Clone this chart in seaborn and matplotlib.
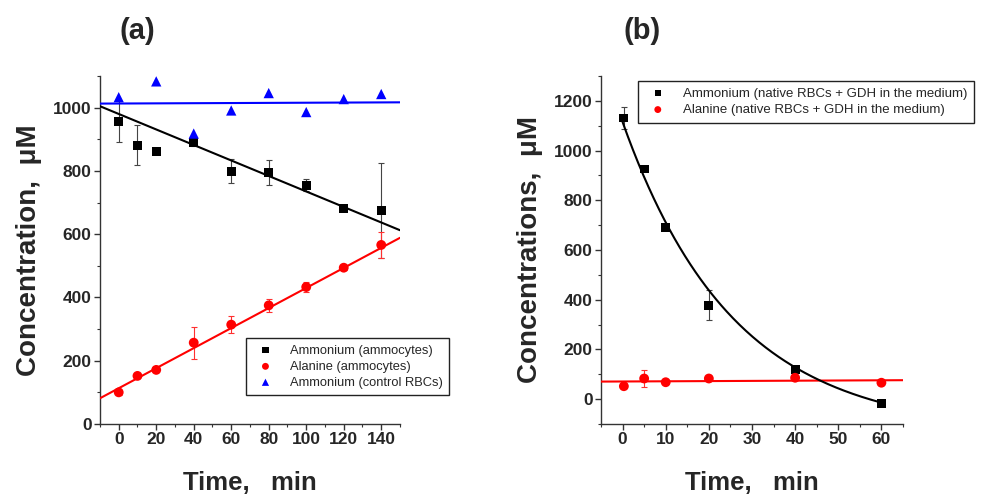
# plot.py - two panel concentration vs time chart

import numpy as np
import pandas as pd
import matplotlib
matplotlib.use('Agg')
import matplotlib.pyplot as plt
from matplotlib.ticker import MultipleLocator
import seaborn as sns

# --- data, panel (a) ---
time_a = [0, 10, 20, 40, 60, 80, 100, 120, 140]
amm_a = [957, 881, 862, 889, 799, 795, 755, 680, 676]
amm_a_err = [65, 63, 10, 10, 38, 40, 20, 8, 150]
ala_a = [100, 152, 171, 257, 314, 375, 433, 494, 566]
ala_a_err = [8, 8, 8, 50, 27, 20, 15, 8, 40]
time_ctrl = [0, 20, 40, 60, 80, 100, 120, 140]
ctrl_a = [1033, 1083, 918, 991, 1046, 986, 1027, 1043]

# fitted lines: intercept, slope
fit_amm_a = [980, -2.45]
fit_ala_a = [113, 3.17]
fit_ctrl_a = [1013, 0.025]

# --- data, panel (b) ---
time_b = [0.3, 5, 10, 20, 40, 60]
amm_b = [1131, 926, 690, 378, 120, -17]
amm_b_err = [45, 10, 10, 60, 10, 5]
ala_b = [52, 83, 68, 83, 86, 66]
ala_b_err = [5, 35, 5, 5, 5, 5]

# exponential decay fit: offset, amplitude, tau
fit_amm_b = [-134, 1249, 25.6]
fit_ala_b = [71, 0.08]

sns.set_style("ticks")
plt.rcParams['font.family'] = ['Liberation Sans', 'DejaVu Sans']
plt.rcParams['font.weight'] = 'bold'

fig = plt.figure(figsize=(9.83, 4.97), dpi=100)
ax1 = fig.add_axes([0.1017, 0.1469, 0.3052, 0.7002])
ax2 = fig.add_axes([0.6114, 0.1469, 0.3072, 0.7002])

err_kw = dict(fmt='none', elinewidth=0.8, capsize=2.5, capthick=0.8, zorder=2)

# --- panel (a) ---
xa = np.array([-10, 150])
ax1.errorbar(time_a, amm_a, yerr=amm_a_err, ecolor='#444444', **err_kw)
ax1.errorbar(time_a, ala_a, yerr=ala_a_err, ecolor='#ff3030', **err_kw)
sns.lineplot(x=xa, y=fit_ctrl_a[0] + fit_ctrl_a[1] * xa, color='#0000ff', lw=1.5, ax=ax1, zorder=3)
sns.lineplot(x=xa, y=fit_amm_a[0] + fit_amm_a[1] * xa, color='black', lw=1.5, ax=ax1, zorder=3)
sns.lineplot(x=xa, y=fit_ala_a[0] + fit_ala_a[1] * xa, color='#ff0000', lw=1.5, ax=ax1, zorder=3)
sns.scatterplot(x=time_a, y=amm_a, marker='s', s=40, color='black', edgecolor='none',
                label='Ammonium (ammocytes)', ax=ax1, zorder=4)
sns.scatterplot(x=time_a, y=ala_a, marker='o', s=50, color='#ff0000', edgecolor='none',
                label='Alanine (ammocytes)', ax=ax1, zorder=4)
sns.scatterplot(x=time_ctrl, y=ctrl_a, marker='^', s=55, color='#0000ff', edgecolor='none',
                label='Ammonium (control RBCs)', ax=ax1, zorder=4)

ax1.set_xlim(-10, 150)
ax1.set_ylim(0, 1100)
ax1.xaxis.set_major_locator(MultipleLocator(20))
ax1.xaxis.set_minor_locator(MultipleLocator(10))
ax1.yaxis.set_major_locator(MultipleLocator(200))
ax1.yaxis.set_minor_locator(MultipleLocator(100))
ax1.set_xlabel('Time,   min', fontsize=18.5, fontweight='bold', labelpad=17)
ax1.set_ylabel('Concentration,  \u03bcM', fontsize=20, fontweight='bold', labelpad=8)
ax1.legend(loc='lower left', bbox_to_anchor=(0.487, 0.083), borderaxespad=0,
           prop={'weight': 'normal', 'size': 9.3}, frameon=True, fancybox=False,
           edgecolor='#222222', framealpha=1, handletextpad=0.9, labelspacing=0.3,
           markerscale=0.7, borderpad=0.5)
fig.text(0.140, 0.937, '(a)', fontsize=21, fontweight='bold', ha='center', va='center')

# --- panel (b) ---
xb = np.linspace(0, 60, 200)
xr = np.array([-5, 65])
ax2.errorbar(time_b, amm_b, yerr=amm_b_err, ecolor='#444444', **err_kw)
ax2.errorbar(time_b, ala_b, yerr=ala_b_err, ecolor='#ff3030', **err_kw)
sns.lineplot(x=xr, y=fit_ala_b[0] + fit_ala_b[1] * xr, color='#ff0000', lw=1.5, ax=ax2, zorder=3)
sns.lineplot(x=xb, y=fit_amm_b[0] + fit_amm_b[1] * np.exp(-xb / fit_amm_b[2]),
             color='black', lw=1.5, ax=ax2, zorder=3)
sns.scatterplot(x=time_b, y=amm_b, marker='s', s=40, color='black', edgecolor='none',
                label='Ammonium (native RBCs + GDH in the medium)', ax=ax2, zorder=4)
sns.scatterplot(x=time_b, y=ala_b, marker='o', s=50, color='#ff0000', edgecolor='none',
                label='Alanine (native RBCs + GDH in the medium)', ax=ax2, zorder=4)

ax2.set_xlim(-5, 65)
ax2.set_ylim(-100, 1300)
ax2.xaxis.set_major_locator(MultipleLocator(10))
ax2.xaxis.set_minor_locator(MultipleLocator(5))
ax2.yaxis.set_major_locator(MultipleLocator(200))
ax2.yaxis.set_minor_locator(MultipleLocator(100))
ax2.set_xlabel('Time,   min', fontsize=18.5, fontweight='bold', labelpad=17)
ax2.set_ylabel('Concentrations,  \u03bcM', fontsize=20, fontweight='bold', labelpad=8)
ax2.legend(loc='upper left', bbox_to_anchor=(0.1225, 0.9856), borderaxespad=0,
           prop={'weight': 'normal', 'size': 9.5}, frameon=True, fancybox=False,
           edgecolor='#222222', framealpha=1, handletextpad=0.9, labelspacing=0.3,
           markerscale=0.7, borderpad=0.5)
fig.text(0.653, 0.937, '(b)', fontsize=21, fontweight='bold', ha='center', va='center')

for ax in (ax1, ax2):
    sns.despine(ax=ax)
    for side in ('left', 'bottom'):
        ax.spines[side].set_linewidth(1.0)
        ax.spines[side].set_color('#333333')
    ax.tick_params(which='major', direction='out', length=4, width=1.0,
                   labelsize=12.5, color='#333333', pad=2)
    ax.tick_params(which='minor', direction='out', length=2.5, width=0.8, color='#333333')
    for lab in ax.get_xticklabels() + ax.get_yticklabels():
        lab.set_fontweight('bold')

fig.savefig('out.png', dpi=100)
